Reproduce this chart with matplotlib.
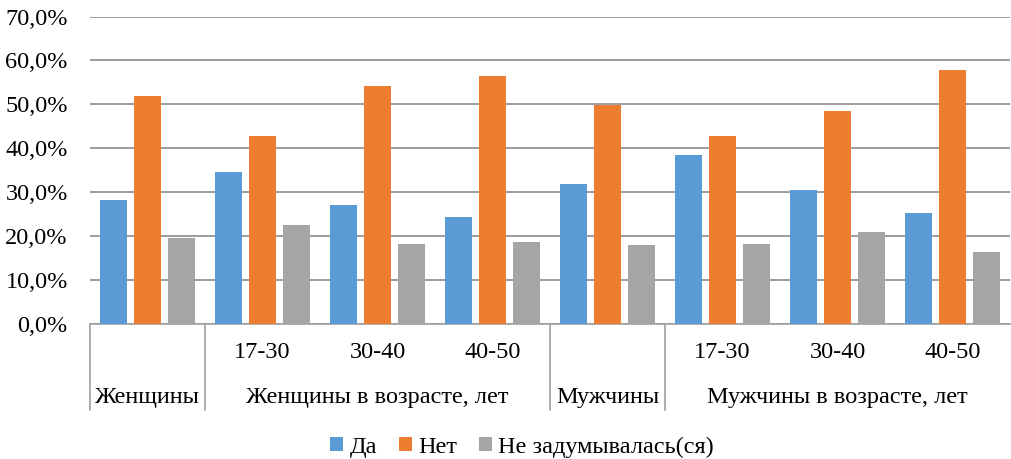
import matplotlib.pyplot as plt
import numpy as np
from matplotlib.ticker import FuncFormatter

# data
groups = ["Женщины", "17-30", "30-40", "40-50", "Мужчины", "17-30", "30-40", "40-50"]
da = [28.2, 34.5, 27.2, 24.4, 31.9, 38.5, 30.5, 25.3]
net = [52.0, 42.7, 54.2, 56.5, 49.8, 42.8, 48.4, 57.9]
ne_zad = [19.5, 22.5, 18.2, 18.7, 18.0, 18.3, 20.9, 16.5]
series_names = ["Да", "Нет", "Не задумывалась(ся)"]
colors = ["#5B9BD5", "#ED7D31", "#A5A5A5"]

# outer level of the category axis: (label, first index, last index)
outer = [("Женщины", 0, 0), ("Женщины в возрасте, лет", 1, 3),
         ("Мужчины", 4, 4), ("Мужчины в возрасте, лет", 5, 7)]

fs = 17.5
plt.rcParams['font.family'] = ['Liberation Serif', 'DejaVu Serif']
plt.rcParams['font.size'] = fs

fig = plt.figure(figsize=(10.12, 4.59), dpi=100)
ax = fig.add_axes([90 / 1012, 1 - 324 / 459, 920 / 1012, (324 - 16.5) / 459])

x = np.arange(len(groups))
w = 0.236
step = 0.297
for i, vals in enumerate([da, net, ne_zad]):
    ax.bar(x + (i - 1) * step, vals, width=w, color=colors[i],
           label=series_names[i], zorder=3)

ax.set_xlim(-0.5, len(groups) - 0.5)
ax.set_ylim(0, 70)
ax.set_yticks(np.arange(0, 71, 10))
ax.yaxis.set_major_formatter(FuncFormatter(lambda v, p: f"{v:.1f}%".replace(".", ",")))
ax.grid(axis='y', color='#8c8c8c', linewidth=1.2, zorder=0)
for s in ['left', 'right', 'top']:
    ax.spines[s].set_visible(False)
ax.spines['bottom'].set_color('#a0a0a0')
ax.spines['bottom'].set_linewidth(1.2)
ax.tick_params(axis='y', length=0, pad=16, labelsize=fs)
ax.set_xticks([])

# multi-level category labels
tr = ax.get_xaxis_transform()
ax_h = 324 - 16.5
inner_y = -(352 - 324) / ax_h
outer_y = -(397 - 324) / ax_h
line_y = -(410 - 324) / ax_h
for i, g in enumerate(groups):
    if g in ("Женщины", "Мужчины"):
        continue
    ax.text(i, inner_y, g, transform=tr, ha='center', va='center', fontsize=fs)
for label, a, b in outer:
    ax.text((a + b) / 2, outer_y, label, transform=tr, ha='center', va='center', fontsize=fs)
for xs in [-0.5, 0.5, 3.5, 4.5]:
    ax.plot([xs, xs], [0, line_y], transform=tr, color='#a0a0a0', linewidth=1.2, clip_on=False)

fig.legend(loc='center', bbox_to_anchor=(522 / 1012, 1 - 447 / 459), ncol=3, frameon=False,
           handlelength=0.55, handleheight=0.55, handletextpad=0.25, columnspacing=0.9, fontsize=fs)

fig.savefig("out.png", dpi=100)
